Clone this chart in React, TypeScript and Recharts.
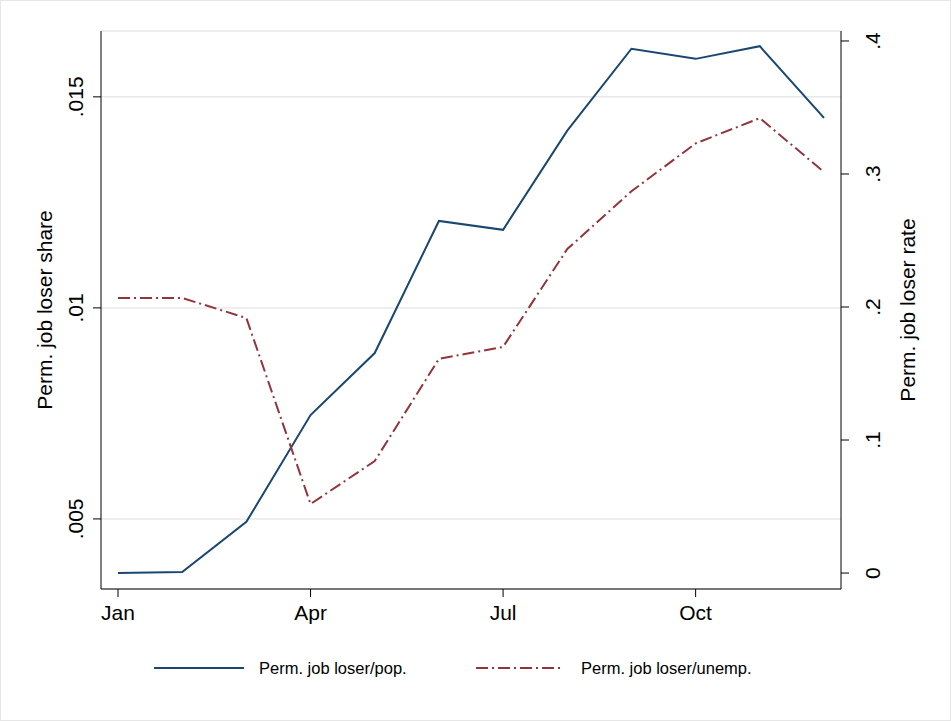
import { LineChart, Line, XAxis, YAxis, CartesianGrid } from "recharts";

const months = [1, 2, 3, 4, 5, 6, 7, 8, 9, 10, 11, 12];
const shareValues = [0.00372, 0.00374, 0.00493, 0.00746, 0.00893, 0.01206, 0.01185, 0.0142, 0.01614, 0.0159, 0.0162, 0.0145];
const rateValues = [0.2068, 0.2068, 0.1917, 0.0519, 0.0842, 0.161, 0.17, 0.2436, 0.287, 0.323, 0.342, 0.3015];
const monthTicks = [1, 4, 7, 10];
const monthLabels: Record<number, string> = { 1: "Jan", 4: "Apr", 7: "Jul", 10: "Oct" };
const leftTicks = [0.005, 0.01, 0.015];
const rightTicks = [0, 0.1, 0.2, 0.3, 0.4];

const data = months.map((m, i) => ({ month: m, share: shareValues[i], rate: rateValues[i] }));

const FONT = "'Liberation Sans', Arial, sans-serif";

function fmt(v: number): string {
  if (v === 0) return "0";
  return String(v).replace(/^0/, "");
}

function LeftTick(props: any) {
  const { x, y, payload } = props;
  return (
    <text x={x - 8} y={y} transform={`rotate(-90 ${x - 8} ${y})`} textAnchor="middle" fontSize={21} fill="#000" fontFamily={FONT}>
      {fmt(payload.value)}
    </text>
  );
}

function RightTick(props: any) {
  const { x, y, payload } = props;
  return (
    <text x={x + 29} y={y} transform={`rotate(-90 ${x + 29} ${y})`} textAnchor="middle" fontSize={21} fill="#000" fontFamily={FONT}>
      {fmt(payload.value)}
    </text>
  );
}

export default function App() {
  return (
    <div style={{ position: "absolute", left: 0, top: 0, width: 951, height: 721, background: "#fff", boxSizing: "border-box", border: "1px solid #e6e6e6" }}>
      <LineChart width={951} height={721} data={data} margin={{ top: 30, right: 0, bottom: 103, left: 0 }}>
        <CartesianGrid horizontal vertical={false} stroke="#e8e8e8" strokeWidth={1.5} yAxisId="left" />
        <XAxis
          dataKey="month"
          type="number"
          domain={[0.735, 12.265]}
          ticks={monthTicks}
          tickFormatter={(v) => monthLabels[v] || ""}
          tick={{ fontSize: 21, fill: "#000", fontFamily: FONT }}
          tickLine={{ stroke: "#000" }}
          tickSize={8}
          axisLine={{ stroke: "#000" }}
          dy={6}
        />
        <YAxis
          yAxisId="left"
          orientation="left"
          width={100}
          domain={[0.00334, 0.01656]}
          ticks={leftTicks}
          tick={<LeftTick />}
          tickLine={{ stroke: "#000" }}
          tickSize={8}
          axisLine={{ stroke: "#000" }}
          label={{ value: "Perm. job loser share", angle: -90, position: "insideLeft", offset: 44, style: { fontSize: 21, fill: "#000", fontFamily: FONT, textAnchor: "middle" } }}
        />
        <YAxis
          yAxisId="right"
          orientation="right"
          width={111}
          domain={[-0.012, 0.4075]}
          ticks={rightTicks}
          tick={<RightTick />}
          tickLine={{ stroke: "#000" }}
          tickSize={8}
          axisLine={{ stroke: "#000" }}
          label={{ value: "Perm. job loser rate", angle: -90, position: "insideRight", offset: 44, style: { fontSize: 21, fill: "#000", fontFamily: FONT, textAnchor: "middle" } }}
        />
        <Line yAxisId="left" dataKey="share" stroke="#1a476f" strokeWidth={2} dot={false} type="linear" isAnimationActive={false} />
        <Line yAxisId="right" dataKey="rate" stroke="#90353b" strokeWidth={2} strokeDasharray="12 4 2 4" dot={false} type="linear" isAnimationActive={false} />
      </LineChart>
      <svg width={951} height={30} style={{ position: "absolute", left: 0, top: 652 }}>
        <line x1={153} y1={15} x2={243} y2={15} stroke="#1a476f" strokeWidth={2} />
        <text x={258} y={21} fontSize={16.5} fontFamily={FONT}>Perm. job loser/pop.</text>
        <line x1={475} y1={15} x2={562} y2={15} stroke="#90353b" strokeWidth={2} strokeDasharray="12 4 2 4" />
        <text x={580} y={21} fontSize={16.5} fontFamily={FONT}>Perm. job loser/unemp.</text>
      </svg>
    </div>
  );
}
